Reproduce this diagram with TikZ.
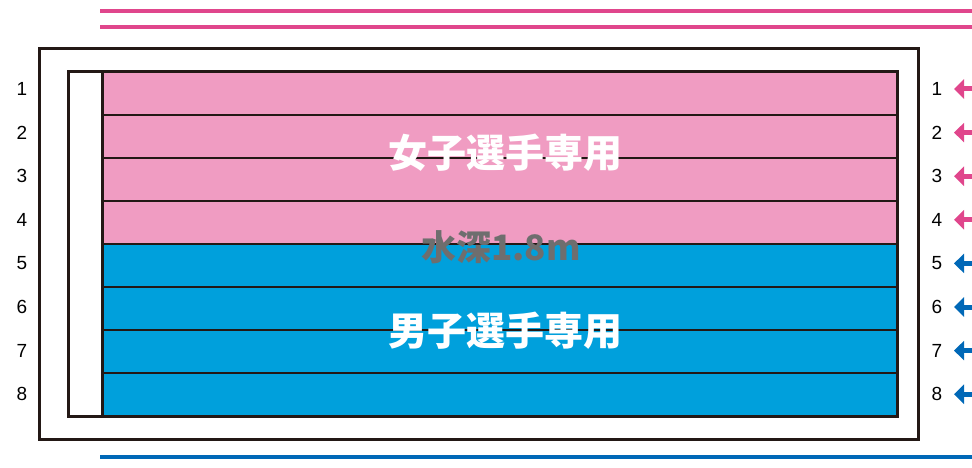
\documentclass[tikz,border=0pt]{standalone}
\usepackage{fontspec}
\setmainfont{Liberation Sans}
\newfontfamily\jpfont{Noto Sans CJK JP}
\usetikzlibrary{arrows.meta}
\definecolor{lanepink}{HTML}{F09CC2}
\definecolor{laneblue}{HTML}{00A0DC}
\definecolor{rosa}{HTML}{E0468C}
\definecolor{azul}{HTML}{0068B7}
\definecolor{edge}{HTML}{231815}
\definecolor{depth}{HTML}{6E6E6E}
\tikzset{
  lanenum/.style={font=\fontsize{19}{19}\selectfont,inner sep=0pt},
  title/.style={font=\jpfont\bfseries\fontsize{39}{39}\selectfont,text=white,inner sep=0pt},
  enter/.style={line width=5pt,-{Triangle[length=10pt,width=19pt]}}
}
\begin{document}
\begin{tikzpicture}[x=1pt,y=-1pt]
\useasboundingbox (0,0) rectangle (972,468);
\clip (0,0) rectangle (972,468);
% lines top and bottom
\draw[rosa,line width=3.5pt] (100,11)--(975,11) (100,27)--(975,27);
\draw[azul,line width=3.5pt] (100,457)--(975,457);
% pool
\draw[edge,line width=3pt] (39,49) rectangle (918,439);
\fill[lanepink] (102,72) rectangle (897,244);
\fill[laneblue] (102,244) rectangle (897,416);
\foreach \i in {1,...,7}
  \draw[edge,line width=1.5pt] (102,72+43*\i)--(897,72+43*\i);
\draw[edge,line width=3pt] (68,72) rectangle (897,416);
\draw[edge,line width=3pt] (102,72)--(102,416);
% lane numbers and arrows
\foreach \i in {1,...,8}{
  \pgfmathsetmacro{\yy}{89+43.6*(\i-1)}
  \node[lanenum] (l\i) at (22,\yy) {\i};
  \node[lanenum] (r\i) at (937,\yy) {\i};
  \coordinate (t\i) at (954,\yy);
  \coordinate (e\i) at (980,\yy);
}
\foreach \i in {1,...,4} \draw[enter,rosa] (e\i)--(t\i);
\foreach \i in {5,...,8} \draw[enter,azul] (e\i)--(t\i);
% texts
\node[title] (women) at (505,153) {女子選手専用};
\node[title] (men) at (505,331) {男子選手専用};
\node[font=\jpfont\bfseries\fontsize{35}{35}\selectfont,text=depth,inner sep=0pt] (depthtxt) at (501,247) {水深1.8m};
\end{tikzpicture}
\end{document}
